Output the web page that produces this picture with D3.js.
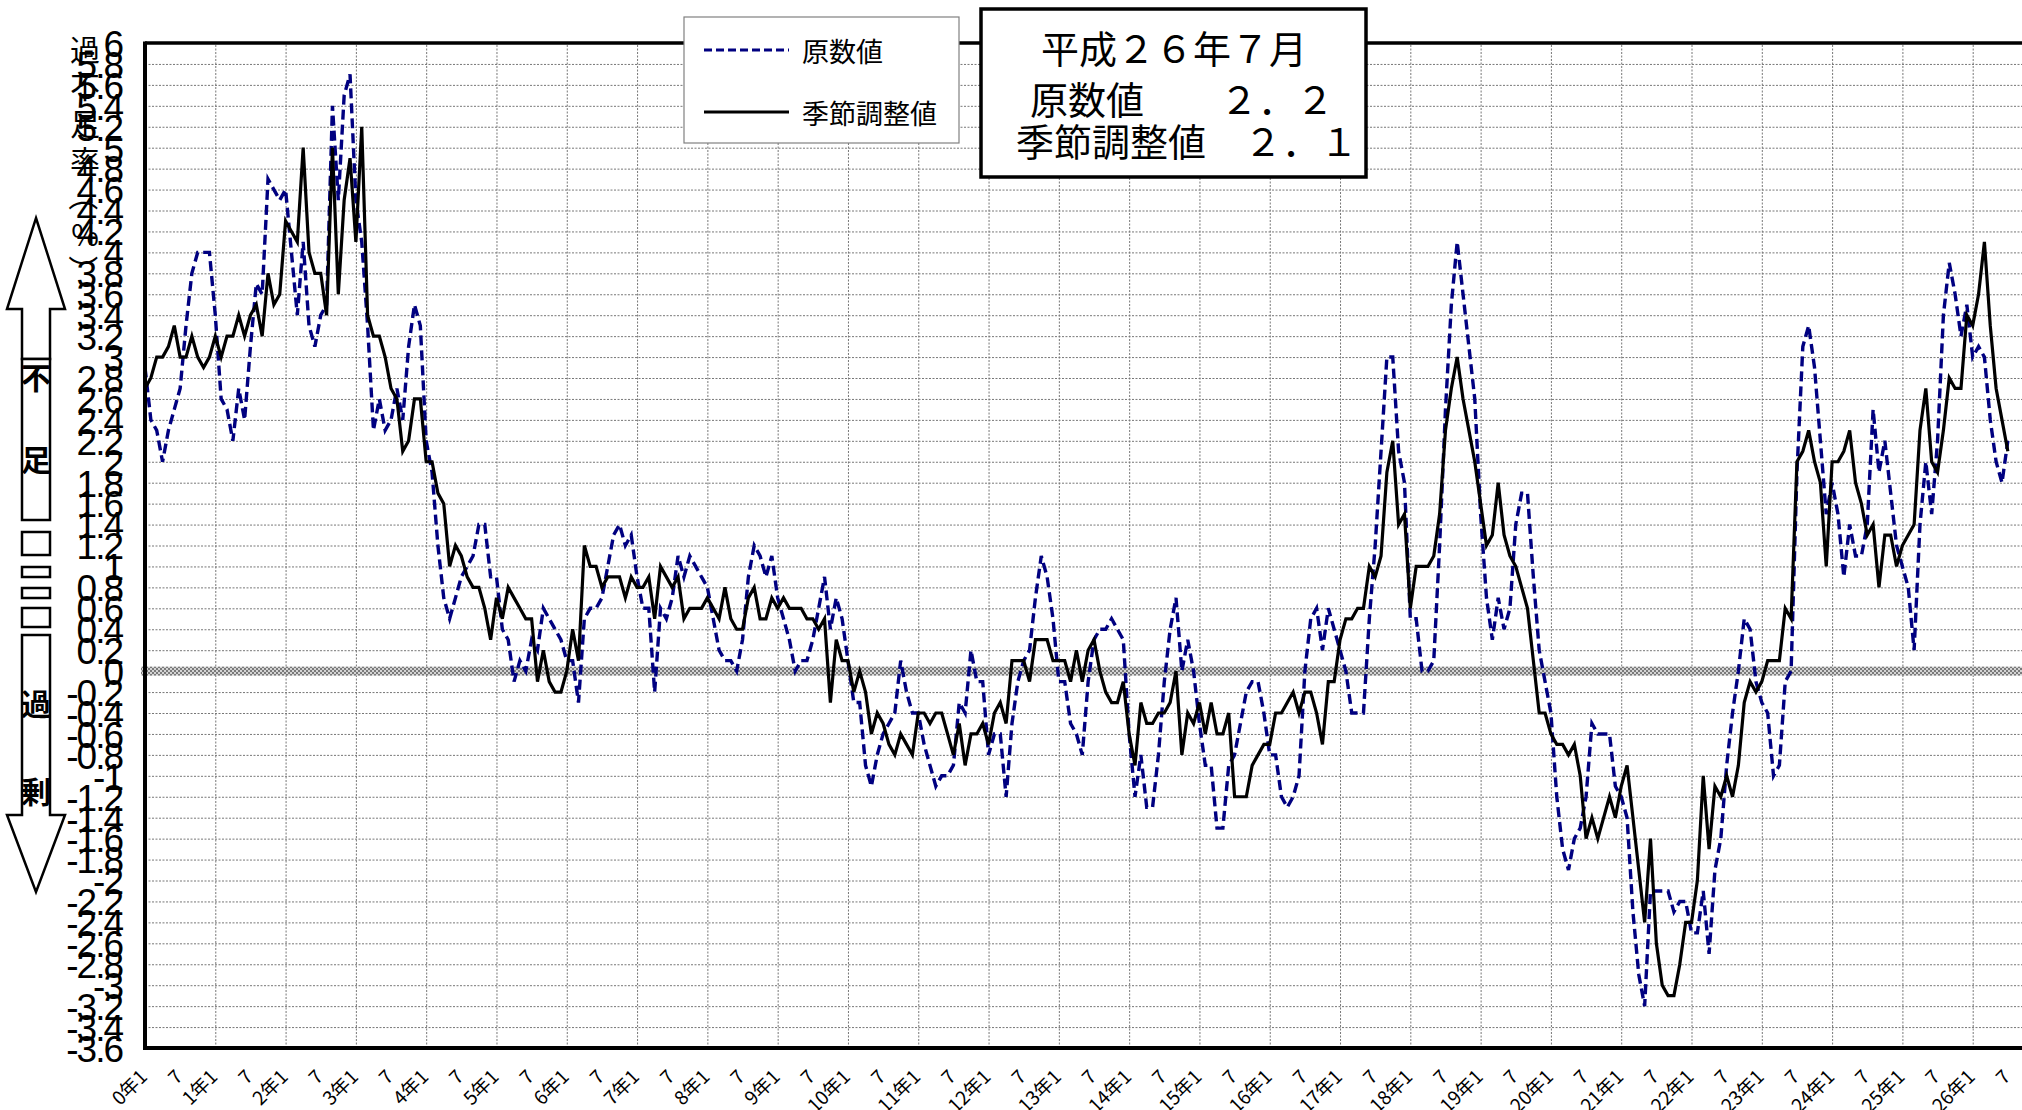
<!DOCTYPE html>
<html>
<head>
<meta charset="utf-8">
<script src="https://cdn.jsdelivr.net/npm/d3@7"></script>
<style>
  body { margin: 0; background: #fff; }
  svg { display: block; }
</style>
</head>
<body>
<div id="chart"></div>
<script>
// 原数値 (monthly, 平成0年1月 .. 26年7月)
var genSuu = [
  2.9, 2.4, 2.3, 2.0, 2.3, 2.5, 2.7, 3.3, 3.8, 4.0, 4.0, 4.0,
  3.4, 2.6, 2.5, 2.2, 2.7, 2.4, 3.1, 3.7, 3.6, 4.7, 4.6, 4.5,
  4.6, 4.0, 3.4, 4.1, 3.3, 3.1, 3.4, 3.5, 5.4, 4.5, 5.5, 5.7,
  4.5, 4.1, 3.3, 2.3, 2.6, 2.3, 2.4, 2.7, 2.4, 3.1, 3.5, 3.3,
  2.2, 1.9, 1.2, 0.7, 0.5, 0.7, 0.9, 1.0, 1.1, 1.4, 1.4, 0.9,
  0.9, 0.4, 0.3, -0.1, 0.1, 0.0, 0.3, 0.2, 0.6, 0.5, 0.4, 0.3,
  0.1, 0.1, -0.3, 0.5, 0.6, 0.6, 0.7, 1.0, 1.3, 1.4, 1.2, 1.3,
  0.9, 0.6, 0.6, -0.2, 0.6, 0.5, 0.7, 1.1, 0.9, 1.1, 1.0, 0.9,
  0.8, 0.5, 0.2, 0.1, 0.1, 0.0, 0.3, 0.9, 1.2, 1.1, 0.9, 1.1,
  0.7, 0.5, 0.3, 0.0, 0.1, 0.1, 0.3, 0.6, 0.9, 0.4, 0.7, 0.5,
  0.1, -0.3, -0.3, -0.9, -1.1, -0.8, -0.6, -0.5, -0.4, 0.1, -0.2, -0.4,
  -0.4, -0.7, -0.9, -1.1, -1.0, -1.0, -0.9, -0.3, -0.4, 0.2, -0.1, -0.1,
  -0.8, -0.6, -0.6, -1.2, -0.5, -0.1, 0.1, 0.2, 0.7, 1.1, 0.9, 0.5,
  -0.1, -0.1, -0.5, -0.6, -0.8, -0.1, 0.3, 0.4, 0.4, 0.5, 0.4, 0.3,
  -0.6, -1.2, -0.8, -1.3, -1.3, -0.8, -0.1, 0.4, 0.7, 0.0, 0.3, 0.0,
  -0.5, -0.9, -0.9, -1.5, -1.5, -0.9, -0.8, -0.5, -0.2, -0.1, -0.1, -0.4,
  -0.8, -0.8, -1.2, -1.3, -1.2, -1.0, 0.0, 0.5, 0.6, 0.2, 0.6, 0.4,
  0.2, 0.0, -0.4, -0.4, -0.4, 0.5, 1.2, 2.1, 3.0, 3.0, 2.1, 1.8,
  0.5, 0.5, 0.0, 0.0, 0.1, 1.2, 2.5, 3.5, 4.1, 3.6, 3.1, 2.6,
  1.5, 0.7, 0.3, 0.7, 0.4, 0.6, 1.4, 1.7, 1.7, 0.9, 0.2, -0.1,
  -0.4, -1.2, -1.7, -1.9, -1.6, -1.5, -1.2, -0.5, -0.6, -0.6, -0.6, -1.1,
  -1.2, -1.4, -2.3, -2.9, -3.2, -2.1, -2.1, -2.1, -2.1, -2.3, -2.2, -2.2,
  -2.5, -2.5, -2.1, -2.7, -1.9, -1.6, -0.9, -0.4, 0.0, 0.5, 0.4, -0.1,
  -0.3, -0.4, -1.0, -0.9, -0.1, 0.0, 1.9, 3.1, 3.3, 2.9, 2.2, 1.5,
  1.8, 1.5, 0.9, 1.4, 1.1, 1.1, 1.4, 2.5, 1.9, 2.2, 1.7, 1.2,
  1.0, 0.8, 0.2, 1.4, 2.0, 1.5, 2.2, 3.4, 3.9, 3.6, 3.2, 3.5,
  3.0, 3.1, 3.0, 2.4, 2.0, 1.8, 2.2
];

// 季節調整値
var kisetsu = [
  2.7, 2.8, 3.0, 3.0, 3.1, 3.3, 3.0, 3.0, 3.2, 3.0, 2.9, 3.0,
  3.2, 3.0, 3.2, 3.2, 3.4, 3.2, 3.4, 3.5, 3.2, 3.8, 3.5, 3.6,
  4.3, 4.2, 4.1, 5.0, 4.0, 3.8, 3.8, 3.4, 5.0, 3.6, 4.5, 4.9,
  4.1, 5.2, 3.4, 3.2, 3.2, 3.0, 2.7, 2.6, 2.1, 2.2, 2.6, 2.6,
  2.0, 2.0, 1.7, 1.6, 1.0, 1.2, 1.1, 0.9, 0.8, 0.8, 0.6, 0.3,
  0.7, 0.5, 0.8, 0.7, 0.6, 0.5, 0.5, -0.1, 0.2, -0.1, -0.2, -0.2,
  0.0, 0.4, 0.1, 1.2, 1.0, 1.0, 0.8, 0.9, 0.9, 0.9, 0.7, 0.9,
  0.8, 0.8, 0.9, 0.5, 1.0, 0.9, 0.8, 0.9, 0.5, 0.6, 0.6, 0.6,
  0.7, 0.6, 0.5, 0.8, 0.5, 0.4, 0.4, 0.7, 0.8, 0.5, 0.5, 0.7,
  0.6, 0.7, 0.6, 0.6, 0.6, 0.5, 0.5, 0.4, 0.5, -0.3, 0.3, 0.1,
  0.1, -0.2, 0.0, -0.2, -0.6, -0.4, -0.5, -0.7, -0.8, -0.6, -0.7, -0.8,
  -0.4, -0.4, -0.5, -0.4, -0.4, -0.6, -0.8, -0.5, -0.9, -0.6, -0.6, -0.5,
  -0.7, -0.4, -0.3, -0.5, 0.1, 0.1, 0.1, -0.1, 0.3, 0.3, 0.3, 0.1,
  0.1, 0.1, -0.1, 0.2, -0.1, 0.2, 0.3, 0.0, -0.2, -0.3, -0.3, -0.1,
  -0.6, -0.9, -0.3, -0.5, -0.5, -0.4, -0.4, -0.3, 0.0, -0.8, -0.4, -0.5,
  -0.3, -0.6, -0.3, -0.6, -0.6, -0.4, -1.2, -1.2, -1.2, -0.9, -0.8, -0.7,
  -0.7, -0.4, -0.4, -0.3, -0.2, -0.4, -0.2, -0.2, -0.4, -0.7, -0.1, -0.1,
  0.3, 0.5, 0.5, 0.6, 0.6, 1.0, 0.9, 1.1, 1.9, 2.2, 1.4, 1.5,
  0.6, 1.0, 1.0, 1.0, 1.1, 1.5, 2.3, 2.7, 3.0, 2.6, 2.3, 2.0,
  1.6, 1.2, 1.3, 1.8, 1.3, 1.1, 1.0, 0.8, 0.6, 0.1, -0.4, -0.4,
  -0.6, -0.7, -0.7, -0.8, -0.7, -1.0, -1.6, -1.4, -1.6, -1.4, -1.2, -1.4,
  -1.1, -0.9, -1.4, -1.9, -2.4, -1.6, -2.6, -3.0, -3.1, -3.1, -2.8, -2.4,
  -2.4, -2.0, -1.0, -1.7, -1.1, -1.2, -1.0, -1.2, -0.9, -0.3, -0.1, -0.2,
  -0.1, 0.1, 0.1, 0.1, 0.6, 0.5, 2.0, 2.1, 2.3, 2.0, 1.8, 1.0,
  2.0, 2.0, 2.1, 2.3, 1.8, 1.6, 1.3, 1.4, 0.8, 1.3, 1.3, 1.0,
  1.2, 1.3, 1.4, 2.3, 2.7, 2.0, 1.9, 2.3, 2.8, 2.7, 2.7, 3.4,
  3.3, 3.6, 4.1, 3.3, 2.7, 2.4, 2.1
];

// x tick labels, every 6 months
var xLabels = [
  "0年1", "7", "1年1", "7", "2年1", "7", "3年1", "7", "4年1", "7",
  "5年1", "7", "6年1", "7", "7年1", "7", "8年1", "7", "9年1", "7",
  "10年1", "7", "11年1", "7", "12年1", "7", "13年1", "7", "14年1", "7",
  "15年1", "7", "16年1", "7", "17年1", "7", "18年1", "7", "19年1", "7",
  "20年1", "7", "21年1", "7", "22年1", "7", "23年1", "7", "24年1", "7",
  "25年1", "7", "26年1", "7"
];

var seriesNames = ["原数値", "季節調整値"];
var titleLines = ["平成２６年７月", "原数値　　２．２", "季節調整値　２．１"];
var yTitle = ["過", "不", "足", "率", "（", "%", "）"];

var W = 2022, H = 1110;
var plotL = 145, plotT = 43, plotB = 1048, monthW = 5.858;
var jp = "'Noto Sans CJK JP', sans-serif";

var svg = d3.select("#chart").append("svg")
  .attr("width", W).attr("height", H)
  .style("width", W).style("height", H);

// --
var defs = svg.append("defs");
var pat = defs.append("pattern").attr("id", "hatch")
  .attr("width", 4).attr("height", 4).attr("patternUnits", "userSpaceOnUse");
pat.append("rect").attr("width", 4).attr("height", 4).attr("fill", "#d4d4d4");
pat.append("rect").attr("width", 2).attr("height", 2).attr("fill", "#7a7a7a");
pat.append("rect").attr("x", 2).attr("y", 2).attr("width", 2).attr("height", 2).attr("fill", "#7a7a7a");

// --
var x = d3.scaleLinear().domain([0, 324]).range([plotL, plotL + 324 * monthW]);
var y = d3.scaleLinear().domain([-3.6, 6]).range([plotB, plotT]);
var plotR = x(324);

var yTicks = d3.range(-18, 31).map(function(k) { return k / 5; });
var xTicks = d3.range(0, 319, 6);
var yearTicks = d3.range(12, 324, 12);

// gridlines
var gy = svg.append("g")
  .attr("transform", "translate(" + plotL + ",0)")
  .call(d3.axisLeft(y).tickValues(yTicks).tickSize(-(plotR - plotL)).tickFormat(""));
gy.select(".domain").remove();
gy.selectAll("line").attr("stroke", "#777").attr("stroke-width", 1).attr("stroke-dasharray", "2,1.5");

var gx = svg.append("g")
  .attr("transform", "translate(0," + plotB + ")")
  .call(d3.axisBottom(x).tickValues(yearTicks).tickSize(-(plotB - plotT)).tickFormat(""));
gx.select(".domain").remove();
gx.selectAll("line").attr("stroke", "#777").attr("stroke-width", 1).attr("stroke-dasharray", "2,1.5");

// zero band
svg.append("rect")
  .attr("x", plotL - 4).attr("y", y(0) - 4.5)
  .attr("width", plotR - plotL + 4).attr("height", 9)
  .attr("fill", "url(#hatch)");

// --
var line = d3.line()
  .x(function(d, i) { return x(i); })
  .y(function(d) { return y(d); });

svg.append("path").datum(genSuu)
  .attr("d", line)
  .attr("fill", "none")
  .attr("stroke", "#000080")
  .attr("stroke-width", 3.4)
  .attr("stroke-dasharray", "10,5");

svg.append("path").datum(kisetsu)
  .attr("d", line)
  .attr("fill", "none")
  .attr("stroke", "#000")
  .attr("stroke-width", 3.2);

// frame
svg.append("line").attr("x1", plotL).attr("x2", W).attr("y1", plotT).attr("y2", plotT)
  .attr("stroke", "#000").attr("stroke-width", 3.5);
svg.append("line").attr("x1", plotL).attr("x2", W).attr("y1", plotB).attr("y2", plotB)
  .attr("stroke", "#000").attr("stroke-width", 4);
svg.append("line").attr("x1", plotL).attr("x2", plotL).attr("y1", plotT - 1.5).attr("y2", plotB + 2)
  .attr("stroke", "#000").attr("stroke-width", 4);

// y tick labels
var ya = svg.append("g")
  .attr("transform", "translate(" + plotL + ",0)")
  .call(d3.axisLeft(y).tickValues(yTicks).tickSize(0).tickPadding(23)
    .tickFormat(function(d) { return String(+d.toFixed(1)); }));
ya.select(".domain").remove();
ya.selectAll("text")
  .attr("dy", "0.36em")
  .style("font-family", "'Liberation Sans', Arial, sans-serif")
  .style("font-size", "37px")
  .style("letter-spacing", "-2px")
  .attr("fill", "#000");

// x tick labels
var xa = svg.append("g")
  .attr("transform", "translate(0," + plotB + ")")
  .call(d3.axisBottom(x).tickValues(xTicks).tickSize(0)
    .tickFormat(function(d, i) { return xLabels[i]; }));
xa.select(".domain").remove();
xa.selectAll("text")
  .attr("x", 3).attr("y", 30).attr("dy", 0)
  .attr("text-anchor", "end")
  .attr("transform", "rotate(-45,3,30)")
  .style("font-family", jp)
  .style("font-size", "19px")
  .attr("fill", "#000");

// y title (vertical)
svg.selectAll(".ytitle").data(yTitle).enter().append("text")
  .attr("class", "ytitle")
  .attr("text-anchor", "middle")
  .attr("dominant-baseline", "central")
  .attr("transform", function(d, i) {
    var cy = 48 + i * 37;
    var rot = (d == "（" || d == "）") ? 90 : 0;
    return "translate(85," + cy + ") rotate(" + rot + ")";
  })
  .style("font-family", jp)
  .style("font-size", "30px")
  .text(function(d) { return d; });

// left arrows
var arrows = svg.append("g").attr("fill", "#fff").attr("stroke", "#000").attr("stroke-width", 2.5);
arrows.append("path").attr("d", "M36,218 L65,309 L50,309 L50,359 L22,359 L22,309 L7,309 Z");
arrows.append("rect").attr("x", 22).attr("y", 359).attr("width", 28).attr("height", 161);
[[532, 23], [567, 10], [588, 10], [608, 19]].forEach(function(b) {
  arrows.append("rect").attr("x", 22).attr("y", b[0]).attr("width", 28).attr("height", b[1]);
});
arrows.append("path").attr("d", "M22,635 L50,635 L50,815 L65,815 L36,892 L7,815 L22,815 Z");

svg.selectAll(".arr").data([["不", 376], ["足", 458], ["過", 702], ["剰", 790]]).enter().append("text")
  .attr("class", "arr")
  .attr("x", 36).attr("y", function(d) { return d[1]; })
  .attr("text-anchor", "middle")
  .attr("dominant-baseline", "central")
  .style("font-family", jp)
  .style("font-size", "30px")
  .style("font-weight", "bold")
  .text(function(d) { return d[0]; });

// legend
var lg = svg.append("g");
lg.append("rect").attr("x", 684).attr("y", 17).attr("width", 275).attr("height", 126)
  .attr("fill", "#fff").attr("stroke", "#808080").attr("stroke-width", 1.2);
lg.append("line").attr("x1", 704).attr("x2", 789).attr("y1", 50).attr("y2", 50)
  .attr("stroke", "#000080").attr("stroke-width", 3).attr("stroke-dasharray", "8,4");
lg.append("line").attr("x1", 704).attr("x2", 789).attr("y1", 112).attr("y2", 112)
  .attr("stroke", "#000").attr("stroke-width", 3);
lg.selectAll("text").data(seriesNames).enter().append("text")
  .attr("x", 802).attr("y", function(d, i) { return i == 0 ? 50 : 112; })
  .attr("dominant-baseline", "central")
  .style("font-family", jp)
  .style("font-size", "27px")
  .text(function(d) { return d; });

// title box
var tb = svg.append("g");
tb.append("rect").attr("x", 981).attr("y", 9).attr("width", 385).attr("height", 168)
  .attr("fill", "#fff").attr("stroke", "#000").attr("stroke-width", 3.5);
tb.selectAll("text").data(titleLines).enter().append("text")
  .attr("x", function(d, i) { return [1041, 1030, 1016][i]; })
  .attr("y", function(d, i) { return [46, 97, 139][i]; })
  .attr("dominant-baseline", "central")
  .style("font-family", jp)
  .style("font-size", "38px")
  .text(function(d) { return d; });
</script>
</body>
</html>
